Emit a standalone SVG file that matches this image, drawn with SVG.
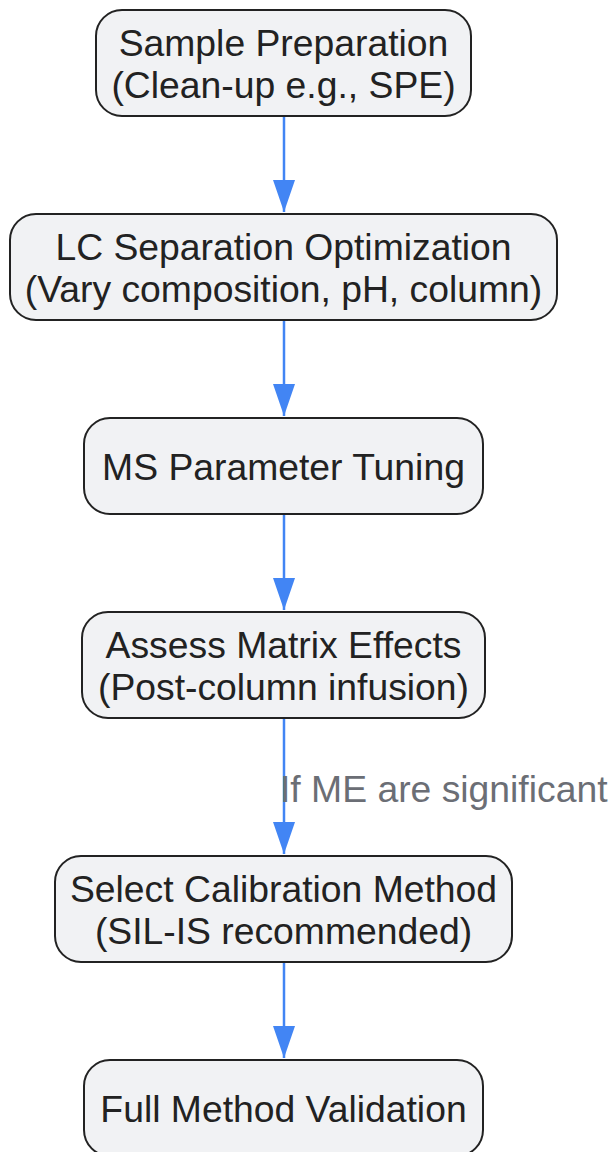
<svg xmlns="http://www.w3.org/2000/svg" width="611" height="1152" viewBox="0 0 611 1152">
<style>
.node rect{fill:#f1f2f4;stroke:#222;stroke-width:2}
.node text{font-family:"Liberation Sans",Arial,sans-serif;font-size:37.3px;fill:#222;text-anchor:middle}
.edge{stroke:#4285f4;stroke-width:2.5;fill:none}
.lbl{font-family:"Liberation Sans",Arial,sans-serif;font-size:37.3px;fill:#6b6e75}
</style>
<defs>
<marker id="ah" markerUnits="userSpaceOnUse" markerWidth="32" markerHeight="22" refX="32" refY="11" viewBox="0 0 32 22" orient="auto">
<path d="M0,0 L32,11 L0,22 Z" fill="#4285f4"/>
</marker>
</defs>
<rect width="611" height="1152" fill="#fff"/>
<g id="connectors">
<line class="edge" x1="284" y1="116" x2="284" y2="212" marker-end="url(#ah)"/>
<line class="edge" x1="284" y1="320" x2="284" y2="416" marker-end="url(#ah)"/>
<line class="edge" x1="284" y1="514" x2="284" y2="610" marker-end="url(#ah)"/>
<line class="edge" x1="284" y1="718" x2="284" y2="854" marker-end="url(#ah)"/>
<line class="edge" x1="284" y1="962" x2="284" y2="1058" marker-end="url(#ah)"/>
<text class="lbl" x="280" y="802">If ME are significant</text>
</g>
<g id="n1" class="node"><rect x="96" y="10" width="375" height="106" rx="26"/><text x="283.5" y="56">Sample Preparation</text><text x="283.5" y="98">(Clean-up e.g., SPE)</text></g>
<g id="n2" class="node"><rect x="10" y="214" width="547" height="106" rx="26"/><text x="283.5" y="260">LC Separation Optimization</text><text x="283.5" y="302">(Vary composition, pH, column)</text></g>
<g id="n3" class="node"><rect x="84" y="418" width="399" height="96" rx="26"/><text x="283.5" y="480">MS Parameter Tuning</text></g>
<g id="n4" class="node"><rect x="82" y="612" width="403" height="106" rx="26"/><text x="283.5" y="658">Assess Matrix Effects</text><text x="283.5" y="700">(Post-column infusion)</text></g>
<g id="n5" class="node"><rect x="55" y="856" width="457" height="106" rx="26"/><text x="283.5" y="902">Select Calibration Method</text><text x="283.5" y="944">(SIL-IS recommended)</text></g>
<g id="n6" class="node"><rect x="84" y="1060" width="399" height="96" rx="26"/><text x="283.5" y="1122">Full Method Validation</text></g>
</svg>
